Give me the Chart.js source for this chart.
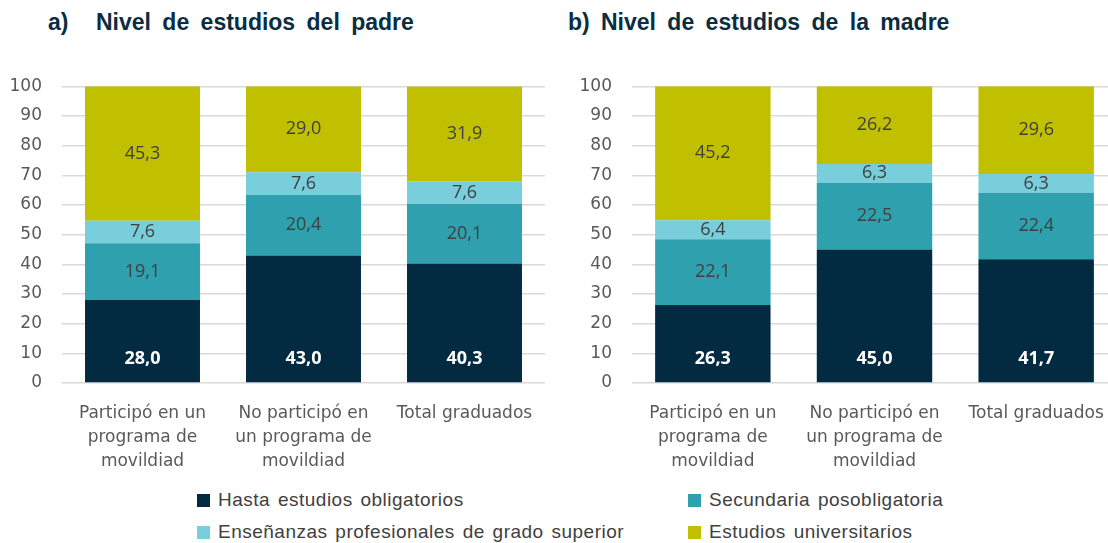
<!DOCTYPE html>
<html>
<head>
<meta charset="utf-8">
<script src="https://cdn.jsdelivr.net/npm/chart.js@4"></script>
<style>
  html, body { margin: 0; padding: 0; background: #fff; }
  body { width: 1108px; height: 543px; position: relative; overflow: hidden; }
  .titulo { position: absolute; top: 9px; font-family: "Liberation Sans", sans-serif;
            font-weight: bold; font-size: 23px; color: #0b2d42; white-space: pre; word-spacing: 5px; }
  .caja { position: absolute; top: 56px; height: 424px; }
  .leyenda { position: absolute; font-family: "Liberation Sans", sans-serif;
             font-size: 19px; color: #404040; letter-spacing: 0.5px; word-spacing: 2px; white-space: nowrap; }
  .leyenda span.cuadro { display: inline-block; width: 13px; height: 13px; margin-right: 8px; vertical-align: -1px; }
</style>
</head>
<body>
<div class="titulo" style="left:48px">a)</div>
<div class="titulo" style="left:96px">Nivel de estudios del padre</div>
<div class="titulo" style="left:568px">b)</div>
<div class="titulo" style="left:601px">Nivel de estudios de la madre</div>
<div class="caja" style="left:0px; width:545px"><canvas id="grafico-padre"></canvas></div>
<div class="caja" style="left:570px; width:547px"><canvas id="grafico-madre"></canvas></div>
<div id="leyenda"></div>
<script>
const categorias = [
  ["Participó en un", "programa de", "movildiad"],
  ["No participó en", "un programa de", "movildiad"],
  ["Total graduados"]
];
const series = ["Hasta estudios obligatorios", "Secundaria posobligatoria",
                "Enseñanzas profesionales de grado superior", "Estudios universitarios"];
const colores = ["#022a40", "#2ea0ae", "#78ceda", "#c0bf00"];

// nivel de estudios del padre
const padre_obligatorios = [28.0, 43.0, 40.3];
const padre_secundaria = [19.1, 20.4, 20.1];
const padre_profesionales = [7.6, 7.6, 7.6];
const padre_universitarios = [45.3, 29.0, 31.9];

// nivel de estudios de la madre
const madre_obligatorios = [26.3, 45.0, 41.7];
const madre_secundaria = [22.1, 22.5, 22.4];
const madre_profesionales = [6.4, 6.3, 6.3];
const madre_universitarios = [45.2, 26.2, 29.6];

const ticks_y = [0, 10, 20, 30, 40, 50, 60, 70, 80, 90, 100];

// etiquetas dentro de las barras
const etiquetas = {
  id: "etiquetas",
  afterDatasetsDraw(chart) {
    const ctx = chart.ctx;
    ctx.save();
    ctx.textAlign = "center";
    ctx.textBaseline = "middle";
    chart.data.datasets.forEach((ds, i) => {
      chart.getDatasetMeta(i).data.forEach((bar, j) => {
        const txt = ds.data[j].toFixed(1).replace(".", ",");
        if (i === 0) {
          ctx.fillStyle = "#ffffff";
          ctx.font = "bold 18px 'Open Sans'";
          ctx.fillText(txt, bar.x, bar.base - 23);
        } else {
          ctx.fillStyle = "#404040";
          ctx.font = "18px 'Open Sans'";
          ctx.fillText(txt, bar.x, (bar.y + bar.base) / 2);
        }
      });
    });
    ctx.restore();
  }
};

function grafico(id, valores) {
  const ctx = document.getElementById(id);
  new Chart(ctx, {
    type: "bar",
    data: {
      labels: categorias,
      datasets: valores.map((v, i) => ({
        label: series[i],
        data: v,
        backgroundColor: colores[i],
        borderWidth: 0,
        categoryPercentage: 1,
        barPercentage: 0.714
      }))
    },
    options: {
      responsive: true,
      maintainAspectRatio: false,
      animation: false,
      layout: { padding: { top: 22, right: 0, left: 0, bottom: 0 } },
      plugins: { legend: { display: false }, tooltip: { enabled: false } },
      scales: {
        x: {
          stacked: true,
          grid: { display: false },
          border: { display: false },
          ticks: { color: "#595959", font: { family: "DejaVu Sans", size: 17, lineHeight: 1.4 }, padding: 11, maxRotation: 0, autoSkip: false },
          afterFit(scale) { scale.height = 97; }
        },
        y: {
          stacked: true,
          min: 0,
          max: 100,
          afterBuildTicks(scale) { scale.ticks = ticks_y.map(v => ({ value: v })); },
          grid: { color: "#d9d9d9", lineWidth: 1.4, drawTicks: false },
          border: { display: false },
          ticks: { color: "#595959", font: { family: "DejaVu Sans", size: 17 }, padding: 20 },
          afterFit(scale) { scale.width = 62; }
        }
      }
    },
    plugins: [etiquetas]
  });
}

grafico("grafico-padre", [padre_obligatorios, padre_secundaria, padre_profesionales, padre_universitarios]);
grafico("grafico-madre", [madre_obligatorios, madre_secundaria, madre_profesionales, madre_universitarios]);

// leyenda compartida
const posiciones = [[197, 489], [688, 489], [197, 521], [688, 521]];
const ley = document.getElementById("leyenda");
series.forEach((s, i) => {
  const d = document.createElement("div");
  d.className = "leyenda";
  d.style.left = posiciones[i][0] + "px";
  d.style.top = posiciones[i][1] + "px";
  d.innerHTML = '<span class="cuadro" style="background:' + colores[i] + '"></span>' + s;
  ley.appendChild(d);
});
</script>
</body>
</html>
